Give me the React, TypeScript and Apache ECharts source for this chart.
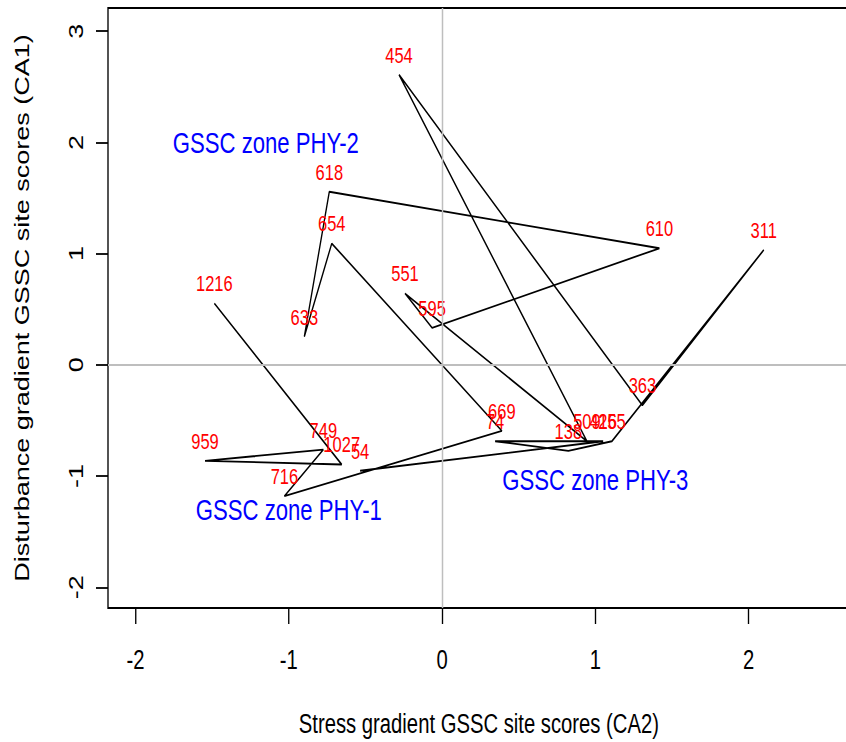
import React, { useEffect, useRef } from "react";
import * as echarts from "echarts";

// Site scores in path (stratigraphic) order
const siteLabels = ["54", "416", "74", "138", "255", "311", "363", "454", "509", "551", "595", "610", "618", "633", "654", "669", "716", "749", "959", "1027", "1216"];
const ca2Scores = [-0.535, 1.051, 0.346, 0.824, 1.108, 2.099, 1.307, -0.281, 0.945, -0.242, -0.065, 1.418, -0.736, -0.899, -0.72, 0.39, -1.029, -0.775, -1.547, -0.655, -1.486];
const ca1Scores = [-0.952, -0.687, -0.687, -0.773, -0.687, 1.033, -0.365, 2.608, -0.687, 0.642, 0.332, 1.048, 1.556, 0.254, 1.091, -0.594, -1.18, -0.762, -0.863, -0.896, 0.553];

// Zone annotations
const zoneNames = ["GSSC zone PHY-2", "GSSC zone PHY-1", "GSSC zone PHY-3"];
const zoneX = [-1.15, -1.0, 1.0];
const zoneY = [2.0, -1.3, -1.03];

const xTicks = [-2, -1, 0, 1, 2];
const yTicks = [-2, -1, 0, 1, 2, 3];

const FONT = "'Liberation Sans', Arial, Helvetica, sans-serif";

export default function App() {
  const ref = useRef<HTMLDivElement>(null);
  useEffect(() => {
    if (!ref.current) return;
    const chart = echarts.init(ref.current, null, { renderer: "svg" });
    const pathData = ca2Scores.map((x, i) => [x, ca1Scores[i]]);
    const labelData = ca2Scores.map((x, i) => [x, ca1Scores[i], siteLabels[i]]);
    const zoneData = zoneNames.map((n, i) => [zoneX[i], zoneY[i], n]);
    chart.setOption({
      animation: false,
      backgroundColor: "#ffffff",
      textStyle: { fontFamily: FONT },
      grid: {
        left: 144,
        top: 8,
        width: 989,
        height: 602,
        show: true,
        borderColor: "#000000",
        borderWidth: 1.8,
        backgroundColor: "transparent",
      },
      xAxis: {
        type: "value",
        min: -2.18,
        max: 2.66,
        axisLine: { show: false, onZero: false },
        splitLine: { show: false },
        axisTick: {
          show: true,
          inside: false,
          length: 16,
          customValues: xTicks,
          lineStyle: { color: "#000000", width: 1.8 },
        },
        axisLabel: {
          customValues: xTicks,
          margin: 38,
          color: "#000000",
          fontSize: 27,
          fontFamily: FONT,
        },
        name: "Stress gradient GSSC site scores (CA2)",
        nameLocation: "middle",
        nameGap: 102,
        nameTextStyle: { color: "#000000", fontSize: 27, fontFamily: FONT },
      },
      yAxis: {
        type: "value",
        min: -2.186,
        max: 3.208,
        axisLine: { show: false, onZero: false },
        splitLine: { show: false },
        axisTick: {
          show: true,
          inside: false,
          length: 16,
          customValues: yTicks,
          lineStyle: { color: "#000000", width: 1.8 },
        },
        axisLabel: {
          customValues: yTicks,
          rotate: 90,
          margin: 30,
          color: "#000000",
          fontSize: 27,
          fontFamily: FONT,
        },
        name: "Disturbance gradient GSSC site scores (CA1)",
        nameLocation: "middle",
        nameRotate: 90,
        nameGap: 102,
        nameTextStyle: { color: "#000000", fontSize: 27, fontFamily: FONT },
      },
      series: [
        {
          type: "line",
          data: [],
          z: 1,
          markLine: {
            silent: true,
            symbol: ["none", "none"],
            label: { show: false },
            lineStyle: { color: "#bebebe", width: 2, type: "solid" },
            data: [{ xAxis: 0 }, { yAxis: 0 }],
          },
        },
        {
          type: "line",
          data: pathData,
          z: 2,
          symbol: "none",
          lineStyle: { color: "#000000", width: 1.8 },
        },
        {
          type: "scatter",
          data: labelData,
          z: 3,
          symbolSize: 0,
          itemStyle: { color: "#ff0000", opacity: 1 },
          label: {
            show: true,
            position: "top",
            distance: 9,
            formatter: (p: any) => p.data[2],
            color: "#ff0000",
            opacity: 1,
            textBorderWidth: 0,
            fontSize: 22,
            fontFamily: FONT,
          },
        },
        {
          type: "scatter",
          data: zoneData,
          z: 3,
          symbolSize: 0,
          itemStyle: { color: "#0000ff", opacity: 1 },
          label: {
            show: true,
            position: "inside",
            formatter: (p: any) => p.data[2],
            color: "#0000ff",
            opacity: 1,
            textBorderWidth: 0,
            fontSize: 29.5,
            fontFamily: FONT,
          },
        },
      ],
    });
    return () => chart.dispose();
  }, []);
  return (
    <div style={{ position: "absolute", left: 0, top: 0, width: 846, height: 742, overflow: "hidden", background: "#ffffff" }}>
      <div
        ref={ref}
        style={{ width: 1150, height: 742, transform: "scaleX(0.75)", transformOrigin: "0 0" }}
      />
    </div>
  );
}
